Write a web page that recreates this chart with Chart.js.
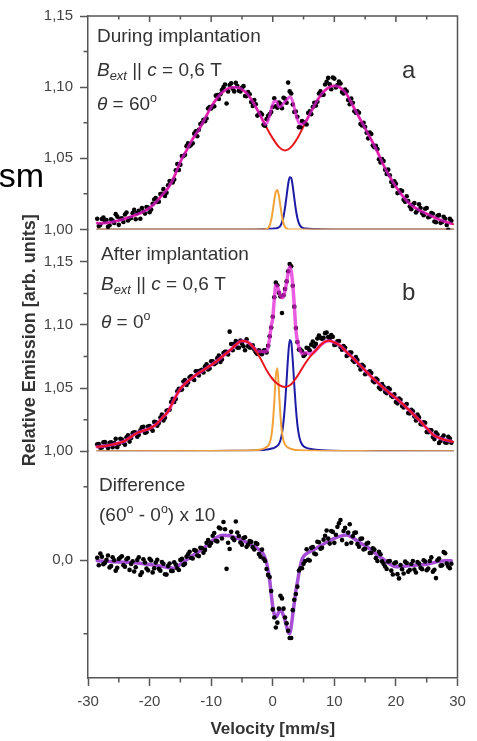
<!DOCTYPE html>
<html><head><meta charset="utf-8">
<script src="https://cdn.jsdelivr.net/npm/chart.js@4.4.0/dist/chart.umd.min.js"></script>
<style>html,body{margin:0;padding:0;background:#fff;overflow:hidden}canvas{display:block}</style>
</head><body>
<canvas id="c" width="477" height="741"></canvas>
<script>
// ---------- data ----------
const dotVelocity = [-28.5,-28,-27.5,-27,-26.5,-26,-25.5,-25,-24.5,-24,-23.5,-23,-22.5,-22,-21.5,-21,-20.5,-20,-19.5,-19,-18.5,-18,-17.5,-17,-16.5,-16,-15.5,-15,-14.5,-14,-13.5,-13,-12.5,-12,-11.5,-11,-10.5,-10,-9.5,-9,-8.5,-8,-7.5,-7,-6.5,-6,-5.5,-5,-4.5,-4,-3.5,-3,-2.5,-2,-1.5,-1,-0.5,0,0.5,1,1.5,2,2.5,3,3.5,4,4.5,5,5.5,6,6.5,7,7.5,8,8.5,9,9.5,10,10.5,11,11.5,12,12.5,13,13.5,14,14.5,15,15.5,16,16.5,17,17.5,18,18.5,19,19.5,20,20.5,21,21.5,22,22.5,23,23.5,24,24.5,25,25.5,26,26.5,27,27.5,28,28.5,29];
const midVelocity = [-28.25,-27.75,-27.25,-26.75,-26.25,-25.75,-25.25,-24.75,-24.25,-23.75,-23.25,-22.75,-22.25,-21.75,-21.25,-20.75,-20.25,-19.75,-19.25,-18.75,-18.25,-17.75,-17.25,-16.75,-16.25,-15.75,-15.25,-14.75,-14.25,-13.75,-13.25,-12.75,-12.25,-11.75,-11.25,-10.75,-10.25,-9.75,-9.25,-8.75,-8.25,-7.75,-7.25,-6.75,-6.25,-5.75,-5.25,-4.75,-4.25,-3.75,-3.25,-2.75,-2.25,-1.75,-1.25,-0.75,-0.25,0.25,0.75,1.25,1.75,2.25,2.75,3.25,3.75,4.25,4.75,5.25,5.75,6.25,6.75,7.25,7.75,8.25,8.75,9.25,9.75,10.25,10.75,11.25,11.75,12.25,12.75,13.25,13.75,14.25,14.75,15.25,15.75,16.25,16.75,17.25,17.75,18.25,18.75,19.25,19.75,20.25,20.75,21.25,21.75,22.25,22.75,23.25,23.75,24.25,24.75,25.25,25.75,26.25,26.75,27.25,27.75,28.25,28.75];

const dotsA = [1.0075,1.0032,1.0084,1.0066,1.0029,1.0062,1.0107,1.0032,1.0078,1.0105,
1.0062,1.0080,1.0137,1.0115,1.0075,1.0125,1.0157,1.0120,1.0180,1.0220,
1.0195,1.0250,1.0235,1.0310,1.0340,1.0350,1.0460,1.0455,1.0515,1.0585,
1.0585,1.0605,1.0690,1.0700,1.0750,1.0760,1.0850,1.0850,1.0865,1.0945,
1.0950,1.1000,1.0885,1.1015,1.0989,1.1030,1.0975,1.0995,1.0938,1.0965,
1.0895,1.0910,1.0800,1.0820,1.0735,1.0775,1.0810,1.0860,1.0865,1.0892,
1.0852,1.0918,1.1032,1.0955,1.0825,1.0792,1.0719,1.0755,1.0737,1.0830,
1.0860,1.0870,1.0955,1.0945,1.1018,1.1065,1.0985,1.1060,1.1015,1.1025,
1.0955,1.0970,1.0880,1.0890,1.0820,1.0820,1.0730,1.0720,1.0640,1.0670,
1.0578,1.0565,1.0470,1.0480,1.0390,1.0380,1.0305,1.0320,1.0260,1.0270,
1.0195,1.0200,1.0142,1.0185,1.0132,1.0150,1.0100,1.0150,1.0090,1.0110,
1.0050,1.0100,1.0052,1.0075,0.9997,1.0060];
const midDotsA = [1.0024,1.0073,1.0055,1.0018,1.0071,1.0045,1.0090,1.0075,1.0052,1.0119,
1.0076,1.0114,1.0071,1.0130,1.0150,1.0111,1.0154,1.0140,1.0210,1.0193,
1.0248,1.0283,1.0258,1.0340,1.0330,1.0415,1.0418,1.0515,1.0525,1.0605,
1.0595,1.0673,1.0655,1.0740,1.0770,1.0780,1.0860,1.0867,1.0940,1.0917,
1.0980,1.1018,1.0970,1.1027,1.0970,1.1008,1.0970,1.1007,1.0937,1.0950,
1.0868,1.0880,1.0810,1.0808,1.0728,1.0798,1.0825,1.0922,1.0855,1.0882,
1.0925,1.0890,1.0970,1.0878,1.0828,1.0718,1.0761,1.0746,1.0818,1.0810,
1.0890,1.0897,1.0970,1.0946,1.1037,1.1020,1.1068,1.0998,1.1040,1.0965,
1.0983,1.0910,1.0920,1.0830,1.0830,1.0740,1.0750,1.0680,1.0680,1.0589,
1.0587,1.0493,1.0495,1.0420,1.0420,1.0333,1.0338,1.0255,1.0275,1.0208,
1.0233,1.0161,1.0174,1.0119,1.0176,1.0115,1.0145,1.0085,1.0115,1.0055,
1.0095,1.0046,1.0089,1.0031,1.0074];
const dotsB = [1.0055,1.0027,1.0070,1.0043,1.0067,1.0032,1.0098,1.0055,1.0093,1.0052,
1.0127,1.0105,1.0150,1.0115,1.0165,1.0193,1.0151,1.0200,1.0163,1.0230,
1.0223,1.0290,1.0265,1.0325,1.0390,1.0390,1.0475,1.0485,1.0552,1.0525,
1.0585,1.0575,1.0633,1.0600,1.0645,1.0670,1.0647,1.0713,1.0690,1.0737,
1.0707,1.0777,1.0787,1.0947,1.0800,1.0872,1.0820,1.0852,1.0800,1.0832,
1.0822,1.0805,1.0770,1.0780,1.0798,1.0782,1.0910,1.1065,1.1335,1.1255,
1.1095,1.1285,1.1425,1.1465,1.1145,1.0865,1.0805,1.0755,1.0820,1.0800,
1.0868,1.0850,1.0916,1.0890,1.0935,1.0904,1.0920,1.0842,1.0870,1.0825,
1.0832,1.0755,1.0782,1.0720,1.0745,1.0680,1.0685,1.0610,1.0625,1.0620,
1.0547,1.0565,1.0492,1.0510,1.0460,1.0490,1.0430,1.0390,1.0418,1.0358,
1.0365,1.0302,1.0328,1.0275,1.0290,1.0215,1.0229,1.0153,1.0168,1.0113,
1.0148,1.0065,1.0107,1.0070,1.0114,1.0068];
const midDotsB = [1.0056,1.0029,1.0072,1.0025,1.0070,1.0065,1.0032,1.0099,1.0068,1.0110,
1.0076,1.0143,1.0148,1.0130,1.0189,1.0147,1.0196,1.0177,1.0232,1.0202,
1.0267,1.0243,1.0320,1.0328,1.0415,1.0413,1.0495,1.0489,1.0564,1.0545,
1.0595,1.0564,1.0632,1.0638,1.0623,1.0689,1.0655,1.0712,1.0698,1.0757,
1.0727,1.0787,1.0767,1.0849,1.0851,1.0821,1.0876,1.0831,1.0886,1.0822,
1.0839,1.0783,1.0800,1.0769,1.0799,1.0835,1.0980,1.1220,1.1315,1.1225,
1.1235,1.1345,1.1482,1.1310,1.0975,1.0805,1.0792,1.0767,1.0815,1.0844,
1.0829,1.0893,1.0898,1.0898,1.0940,1.0892,1.0906,1.0846,1.0873,1.0804,
1.0819,1.0764,1.0781,1.0708,1.0723,1.0648,1.0673,1.0618,1.0633,1.0559,
1.0576,1.0504,1.0531,1.0470,1.0500,1.0440,1.0450,1.0379,1.0408,1.0347,
1.0374,1.0300,1.0317,1.0243,1.0268,1.0212,1.0226,1.0151,1.0166,1.0096,
1.0132,1.0081,1.0124,1.0067,1.0101];
const dotsC = [0.017,0.045,-0.027,0.002,-0.049,0.020,-0.071,0.008,0.027,-0.044,
0.015,-0.026,-0.077,0.001,-0.101,0.006,-0.057,0.010,-0.083,-0.016,
-0.059,-0.012,-0.096,-0.040,-0.073,-0.014,-0.055,0.002,-0.032,0.023,
0.058,0.012,0.065,0.028,0.082,0.070,0.138,0.117,0.185,0.128,
0.216,0.260,-0.059,0.076,0.150,0.263,0.165,0.106,0.156,0.106,
0.125,0.073,0.110,0.024,0.010,-0.060,-0.115,-0.335,-0.458,-0.330,
-0.260,-0.390,-0.480,-0.530,-0.270,-0.180,-0.055,-0.025,0.075,-0.002,
0.090,0.040,0.122,0.084,0.166,0.147,0.198,0.118,0.227,0.274,
0.199,0.111,0.245,0.163,0.188,0.092,0.148,0.078,0.118,0.050,
0.072,-0.005,0.040,-0.025,-0.060,-0.005,-0.097,-0.015,-0.124,-0.062,
-0.010,-0.078,-0.026,-0.064,-0.013,-0.052,0.000,-0.068,-0.005,-0.078,
-0.122,0.012,-0.035,0.047,-0.043,-0.024];
const midDotsC = [-0.034,0.024,-0.018,0.032,-0.040,0.000,-0.052,0.018,-0.034,0.006,
-0.066,-0.007,-0.048,0.020,-0.083,-0.016,-0.069,-0.002,-0.055,0.003,
-0.071,-0.024,-0.098,-0.022,-0.074,-0.030,-0.067,0.010,-0.025,0.041,
0.015,0.069,0.032,0.085,0.051,0.119,0.098,0.166,0.132,0.222,
0.148,0.211,0.119,0.193,0.137,0.189,0.121,0.151,0.091,0.131,
0.089,0.117,0.042,0.072,-0.005,-0.100,-0.210,-0.390,-0.425,-0.242,
-0.330,-0.430,-0.530,-0.340,-0.230,-0.070,-0.055,-0.005,0.002,0.084,
0.045,0.126,0.078,0.140,0.202,0.113,0.193,0.173,0.251,0.137,
0.220,0.188,0.119,0.186,0.110,0.145,0.073,0.113,0.049,0.081,
0.014,0.058,-0.008,-0.043,-0.008,-0.071,-0.021,-0.095,-0.033,-0.091,
-0.019,-0.067,-0.005,-0.084,-0.023,-0.061,-0.009,-0.057,0.019,-0.065,
0.000,-0.037,0.056,-0.023,-0.054];

const broadVelocity = [-28.5,-28,-27,-26,-25,-24,-23,-22,-21,-20,-19,-18,-17,-16,-15,-14,-13,-12,-11,-10,-9,-8,-7,-6,-5,-4,-3,-2,-1,0,1,2,3,4,5,6,7,8,9,10,11,12,13,14,15,16,17,18,19,20,21,22,23,24,25,26,27,28,29,29.3];
const redA = [1.0045,1.0042,1.0046,1.0052,1.0062,1.0075,1.009,1.0105,1.0125,1.015,
1.019,1.024,1.029,1.037,1.0475,1.0555,1.0635,1.070,1.078,1.086,
1.0925,1.097,1.0995,1.100,1.0985,1.0945,1.088,1.080,1.0715,1.064,
1.058,1.0555,1.058,1.064,1.0725,1.081,1.089,1.0955,1.0995,1.101,
1.0995,1.095,1.087,1.079,1.071,1.063,1.0545,1.045,1.037,1.030,
1.024,1.019,1.0155,1.013,1.011,1.009,1.007,1.0055,1.004,1.0037];
const redB = [1.0035,1.0037,1.0043,1.0052,1.0065,1.0082,1.0115,1.0145,1.0163,1.018,
1.021,1.026,1.0315,1.041,1.0495,1.0545,1.0585,1.062,1.065,1.0683,
1.0717,1.0757,1.0797,1.0842,1.0872,1.0862,1.0815,1.0735,1.0642,1.057,
1.0525,1.0508,1.053,1.0595,1.0675,1.0745,1.080,1.085,1.0874,1.0862,
1.0835,1.0785,1.074,1.069,1.064,1.059,1.0545,1.050,1.046,1.042,
1.0378,1.0332,1.0285,1.0235,1.0183,1.0133,1.0105,1.009,1.0078,1.0075];

const totalVelocity = [-28.5,-28,-27,-26,-25,-24,-23,-22,-21,-20,-19,-18,-17,-16,-15,-14,-13,-12,-11,-10,-9,-8,-7,-6,-5,-4,-3,
-2.5,-2,-1.5,
-1.25,-1,-0.75,-0.5,-0.25,0,0.25,0.5,0.75,1,1.25,1.5,1.75,2,2.25,2.5,2.75,3,3.25,3.5,3.75,4,4.25,4.5,4.75,5,
5.5,6,6.5,7,
8,9,10,11,12,13,14,15,16,17,18,19,20,21,22,23,24,25,26,27,28,29];
const totalA = [1.0045,1.0042,1.0046,1.0052,1.0062,1.0075,1.009,1.0105,1.0125,1.015,1.019,1.024,1.029,1.037,1.0475,1.0555,1.0635,1.070,1.078,1.086,1.0925,1.097,1.0995,1.100,1.0985,1.0945,1.088,
1.084,1.080,1.0755,
1.0738,1.0745,1.0768,1.080,1.0845,1.088,1.0902,1.0905,1.0885,1.0862,1.0862,1.0872,1.0885,1.0898,1.091,1.0922,1.093,1.0925,1.0898,1.0855,1.0808,1.0772,1.0748,1.0739,1.0741,1.0745,
1.0767,1.081,1.085,1.089,
1.0955,1.0995,1.101,1.0995,1.095,1.087,1.079,1.071,1.063,1.0545,1.045,1.037,1.030,1.024,1.019,1.0155,1.013,1.011,1.009,1.007,1.0055,1.004];
const totalB = [1.0035,1.0037,1.0043,1.0052,1.0065,1.0082,1.0115,1.0145,1.0163,1.018,1.021,1.026,1.0315,1.041,1.0495,1.0545,1.0585,1.062,1.065,1.0683,1.0717,1.0757,1.0797,1.0842,1.0872,1.0862,1.0815,
1.079,1.079,1.0788,
1.0789,1.0792,1.0825,1.090,1.099,1.1055,1.120,1.1315,1.1305,1.1265,1.1235,1.1215,1.1225,1.1275,1.1335,1.1415,1.1462,1.1425,1.132,1.1155,1.0965,1.0875,1.0825,1.079,1.0772,1.0775,
1.078,1.077,1.0778,1.080,
1.085,1.0874,1.0862,1.0835,1.0785,1.074,1.069,1.064,1.059,1.0545,1.050,1.046,1.042,1.0378,1.0332,1.0285,1.0235,1.0183,1.0133,1.0105,1.009,1.0078];
const diffC = [-0.003,-0.005,-0.008,-0.010,-0.012,-0.014,-0.016,-0.019,-0.024,-0.030,-0.036,-0.042,-0.050,-0.054,-0.028,0.003,0.032,0.058,0.090,0.127,0.158,0.170,0.166,0.153,0.136,0.116,0.093,
0.080,0.064,0.040,
0.015,-0.020,-0.070,-0.135,-0.230,-0.315,-0.370,-0.388,-0.375,-0.350,-0.342,-0.350,-0.380,-0.410,-0.450,-0.490,-0.500,-0.450,-0.370,-0.290,-0.210,-0.150,-0.090,-0.035,0.005,0.025,
0.045,0.058,0.070,0.080,
0.104,0.127,0.148,0.164,0.171,0.153,0.122,0.098,0.070,0.035,0.005,-0.025,-0.045,-0.042,-0.038,-0.034,-0.032,-0.028,-0.018,-0.008,-0.003,-0.004];

const peakVelocity = [-28.5,-10,-6,-4,-3,-2,-1.5,
-1,-0.75,-0.5,-0.25,0,0.25,0.5,0.75,1,1.25,1.5,1.75,2,2.25,2.5,2.75,3,3.25,3.5,3.75,4,4.25,4.5,4.75,5,
5.5,6,7,8,10,14,20,29.3];
const orangeA = [1,1,1,1,1,1,1,
1.0003,1.0009,1.0028,1.0067,1.013,1.0206,1.0264,1.0277,1.0236,1.0163,1.0092,1.0042,1.0016,1.0005,1.0001,1,1,1,1,1,1,1,1,1,1,
1,1,1,1,1,1,1,1];
const blueA = [1,1,1,1,1,1.0001,1.0002,
1.0003,1.0003,1.0004,1.0004,1.0005,1.0006,1.0007,1.001,1.0015,1.0026,1.0049,1.0091,1.0155,1.0236,1.0317,1.0367,1.0361,1.0302,1.0219,1.014,1.008,1.0043,1.0023,1.0013,1.0009,
1.0006,1.0004,1.0002,1.0001,1,1,1,1];
const orangeB = [1,1.0001,1.0003,1.0005,1.0007,1.0013,1.002,
1.0032,1.0044,1.0066,1.0114,1.0214,1.0389,1.0596,1.0658,1.0483,1.0282,1.0149,1.0083,1.0052,1.0038,1.0028,1.0022,1.0018,1.0015,1.0012,1.001,1.0009,1.0008,1.0007,1.0006,1.0005,
1.0005,1.0004,1.0003,1.0002,1.0001,1.0001,1,1];
const blueB = [1,1.0002,1.0003,1.0004,1.0006,1.0008,1.001,
1.0013,1.0015,1.0017,1.002,1.0023,1.0027,1.0034,1.0043,1.0058,1.0087,1.0141,1.0234,1.0376,1.0561,1.0753,1.0881,1.0863,1.0717,1.0522,1.0344,1.0211,1.0127,1.008,1.0054,1.004,
1.0026,1.0019,1.0011,1.0007,1.0004,1.0002,1.0001,1];

const xTicks = [-30,-20,-10,0,10,20,30];
const xMinorTicks = [-25,-15,-5,5,15,25];
const yTicksA = [1.00,1.05,1.10,1.15];
const yTicksB = [1.00,1.05,1.10,1.15];
const yTicksC = [0];
const yMinorA = [1.025,1.075,1.125];
const yMinorB = [1.025,1.075,1.125];
const yMinorC = [-0.5,0.5];

// ---------- chart ----------
const FONT = "'Liberation Sans', Arial, Helvetica, sans-serif";
Chart.defaults.font.family = FONT;
const pts = (xs, ys) => xs.map((x, i) => ({x: x, y: ys[i]}));
const lineDs = (label, xs, ys, axis, color, width) => ({
  label, data: pts(xs, ys), yAxisID: axis, showLine: true, borderColor: color, borderWidth: width,
  pointRadius: 0, fill: false, cubicInterpolationMode: 'monotone', borderJoinStyle: 'round', borderCapStyle: 'round'
});
const dotDs = (label, ys, ys2, axis) => ({
  label, data: pts(dotVelocity, ys).concat(pts(midVelocity, ys2)), yAxisID: axis, showLine: false, pointRadius: 2.3,
  pointBackgroundColor: '#000', backgroundColor: '#000', pointBorderWidth: 0, borderWidth: 0
});

const AXC = '#555';
const yAxis = (ticksArr, digits, weight, sw, min, max, extra) => Object.assign({
  type: 'linear', position: 'left', stack: 'panels', stackWeight: sw, weight: weight, min: min, max: max,
  afterBuildTicks: s => { s.ticks = ticksArr.map(v => ({value: v})); },
  afterFit: s => { s.width = 88; },
  ticks: {font: {size: 15}, color: '#444', padding: 7, autoSkip: false,
          callback: v => v.toFixed(digits).replace('.', ',')},
  grid: {drawOnChartArea: false, tickLength: 8, color: AXC, tickWidth: 1.5},
  border: {color: AXC, width: 1.5}
}, extra || {});

const rich = (ctx, x, y, size, parts) => {
  let cx = x;
  for (const [t, st] of parts) {
    let fs = size, dy = 0;
    const it = st.indexOf('i') >= 0;
    if (st.indexOf('sub') >= 0) { fs = size * 0.68; dy = size * 0.22; }
    if (st.indexOf('sup') >= 0) { fs = size * 0.66; dy = -size * 0.40; }
    ctx.font = (it ? 'italic ' : '') + fs + 'px ' + FONT;
    ctx.fillText(t, cx, y + dy);
    cx += ctx.measureText(t).width;
  }
};

const decor = {
  id: 'decor',
  afterDraw(chart) {
    const {ctx, chartArea: ca, scales} = chart;
    ctx.save();
    ctx.strokeStyle = AXC; ctx.lineWidth = 1.5;
    ctx.beginPath();
    ctx.moveTo(ca.left, ca.top); ctx.lineTo(ca.right, ca.top); ctx.lineTo(ca.right, ca.bottom);
    ctx.stroke();
    ctx.beginPath();
    for (let v = -25; v <= 25; v += 5) {
      const px = scales.x.getPixelForValue(v);
      const len = (v % 10 === 0) ? 6 : 3.5;
      ctx.moveTo(px, ca.top); ctx.lineTo(px, ca.top + len);
    }
    for (const v of xMinorTicks) {
      const px = scales.x.getPixelForValue(v);
      ctx.moveTo(px, ca.bottom); ctx.lineTo(px, ca.bottom + 4.5);
    }
    const ym = [[scales.ya, yMinorA], [scales.yb, yMinorB], [scales.yc, yMinorC]];
    for (const [sc, arr] of ym) for (const v of arr) {
      const py = sc.getPixelForValue(v);
      ctx.moveTo(ca.left, py); ctx.lineTo(ca.left - 4.5, py);
    }
    ctx.stroke();

    ctx.fillStyle = '#333'; ctx.textBaseline = 'alphabetic'; ctx.textAlign = 'left';
    const S = 19;
    rich(ctx, 97, 42, S, [['During implantation', '']]);
    rich(ctx, 97, 76, S, [['B', 'i'], ['ext', 'isub'], [' || ', ''], ['c', 'i'], [' = 0,6 T', '']]);
    rich(ctx, 97, 110, S, [['\u03B8', 'i'], [' = 60', ''], ['o', 'sup']]);
    rich(ctx, 101, 260, S, [['After implantation', '']]);
    rich(ctx, 101, 290, S, [['B', 'i'], ['ext', 'isub'], [' || ', ''], ['c', 'i'], [' = 0,6 T', '']]);
    rich(ctx, 101, 328, S, [['\u03B8', 'i'], [' = 0', ''], ['o', 'sup']]);
    rich(ctx, 99, 491, S, [['Difference', '']]);
    rich(ctx, 99, 521, S, [['(60', ''], ['o', 'sup'], [' - 0', ''], ['o', 'sup'], [') x 10', '']]);
    ctx.font = '24px ' + FONT;
    ctx.fillText('a', 402, 78);
    ctx.fillText('b', 402, 300);
    ctx.fillStyle = '#000';
    ctx.textAlign = 'right';
    ctx.font = '34px ' + FONT;
    ctx.fillText('sm', 44, 187);
    ctx.restore();
  }
};

const MAG = 'rgba(226,30,214,0.72)';
new Chart(document.getElementById('c'), {
  type: 'scatter',
  data: {
    datasets: [
      lineDs('fit a', totalVelocity, totalA, 'ya', MAG, 3),
      dotDs('data a', dotsA, midDotsA, 'ya'),
      lineDs('broad a', broadVelocity, redA, 'ya', '#e8161e', 2),
      lineDs('orange a', peakVelocity, orangeA, 'ya', '#f2a23a', 2),
      lineDs('blue a', peakVelocity, blueA, 'ya', '#1c1ca6', 2),
      lineDs('broad b', broadVelocity, redB, 'yb', '#e8161e', 2),
      lineDs('fit b', totalVelocity, totalB, 'yb', MAG, 3.5),
      dotDs('data b', dotsB, midDotsB, 'yb'),
      lineDs('orange b', peakVelocity, orangeB, 'yb', '#f2a23a', 2),
      lineDs('blue b', peakVelocity, blueB, 'yb', '#1c1ca6', 2),
      dotDs('data c', dotsC, midDotsC, 'yc'),
      lineDs('fit c', totalVelocity, diffC, 'yc', '#a64fd6', 3.5)
    ]
  },
  options: {
    responsive: false, animation: false, events: [], devicePixelRatio: 1,
    layout: {padding: {left: 0, right: 19.5, top: 11, bottom: 0}},
    plugins: {legend: {display: false}, tooltip: {enabled: false}},
    scales: {
      x: {
        type: 'linear', position: 'bottom', min: -30, max: 30,
        afterBuildTicks: s => { s.ticks = xTicks.map(v => ({value: v})); },
        afterFit: s => { s.height = 63; },
        ticks: {font: {size: 15}, color: '#444', padding: 7, maxRotation: 0, autoSkip: false, callback: v => String(v)},
        grid: {drawOnChartArea: false, tickLength: 8, color: AXC, tickWidth: 1.5},
        border: {color: AXC, width: 1.5},
        title: {display: true, text: 'Velocity [mm/s]', color: '#333', font: {size: 17, weight: 'bold'}, padding: {top: 0, bottom: 1}}
      },
      ya: yAxis(yTicksA, 2, 3, 215, 1.0, 1.15),
      yb: yAxis(yTicksB, 2, 2, 223.5, 1.0, 1.1757, {
        title: {display: true, text: 'Relative Emission [arb. units]', color: '#333', font: {size: 18, weight: 'bold'}, padding: {top: 19, bottom: 0}}
      }),
      yc: yAxis(yTicksC, 1, 1, 228.5, -0.802, 0.742)
    }
  },
  plugins: [decor]
});
</script>
</body></html>
